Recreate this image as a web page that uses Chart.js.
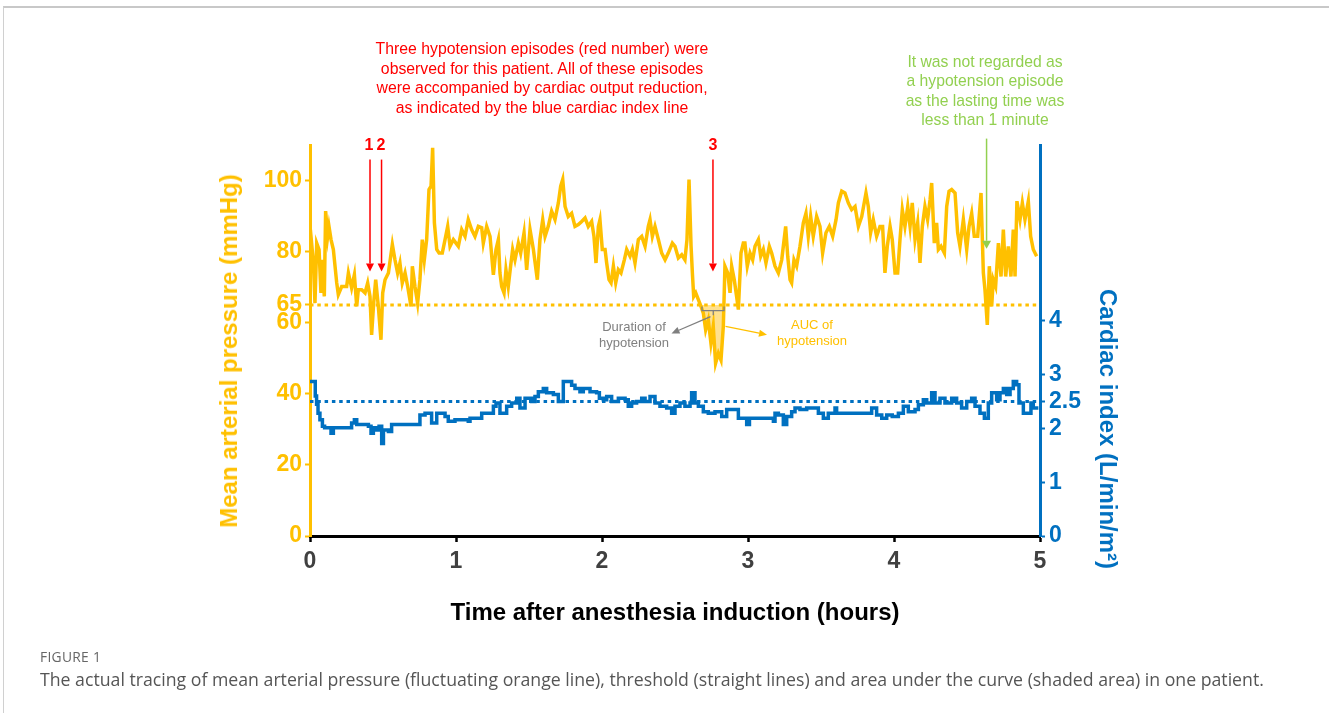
<!DOCTYPE html>
<html>
<head>
<meta charset="utf-8">
<title>MAP and cardiac index tracing</title>
<script src="https://cdn.jsdelivr.net/npm/chart.js"></script>
<style>
  body {
    margin: 0;
    background: #fff;
    font-family: Arial, "Liberation Sans", sans-serif;
  }
  #page {
    position: relative;
    width: 1329px;
    height: 713px;
    overflow: hidden;
  }
  #frame {
    position: absolute;
    left: 3px;
    top: 6px;
    right: -2px;
    bottom: -2px;
    border-top: 2px solid #c8c8c8;
    border-left: 1px solid #d0d0d0;
  }
  #mapChart {
    position: absolute;
    left: 0;
    top: 0;
  }
  .note {
    position: absolute;
    text-align: center;
    white-space: nowrap;
  }
  .red { color: #ff0000; font-size: 15.8px; line-height: 19.7px; }
  .green { color: #92d050; font-size: 15.7px; line-height: 19.4px; }
  .num { color: #ff0000; font-size: 16px; font-weight: bold; line-height: 18px; width: 20px; }
  .small { font-size: 13px; line-height: 16px; width: 120px; }
  .ytitle {
    position: absolute;
    white-space: nowrap;
    font-size: 24px;
    font-weight: bold;
  }
  .caption {
    position: absolute;
    left: 40px;
    font-family: "Open Sans", "Noto Sans", sans-serif;
    color: #555;
    white-space: nowrap;
  }
</style>
</head>
<body>
<div id="page">
  <div id="frame"></div>
  <canvas id="mapChart" width="1329" height="713"></canvas>

  <div class="note red" style="left:342px; top:39px; width:400px;">Three hypotension episodes (red number) were<br>observed for this patient. All of these episodes<br>were accompanied by cardiac output reduction,<br>as indicated by the blue cardiac index line</div>
  <div class="note green" style="left:865px; top:52px; width:240px;">It was not regarded as<br>a hypotension episode<br>as the lasting time was<br>less than 1 minute</div>

  <div class="note num" style="left:359px; top:136px;">1</div>
  <div class="note num" style="left:371px; top:136px;">2</div>
  <div class="note num" style="left:703px; top:136px;">3</div>

  <div class="note small" style="left:574px; top:319px; color:#808080;">Duration of<br>hypotension</div>
  <div class="note small" style="left:752px; top:317px; color:#ffc000;">AUC of<br>hypotension</div>

  <div class="ytitle" style="left:229px; top:351px; color:#ffc000; transform:translate(-50%,-50%) rotate(-90deg);">Mean arterial pressure (mmHg)</div>
  <div class="ytitle" style="left:1108px; top:429px; color:#0070c0; transform:translate(-50%,-50%) rotate(90deg);">Cardiac index (L/min/m²)</div>

  <div class="caption" style="top:647px; font-size:13.8px; letter-spacing:0.3px; color:#666;">FIGURE 1</div>
  <div class="caption" style="top:667px; font-size:17.7px;">The actual tracing of mean arterial pressure (fluctuating orange line), threshold (straight lines) and area under the curve (shaded area) in one patient.</div>
</div>

<script>
// time after induction (hours) and mean arterial pressure (mmHg)
const mapTime = [
  0, 0.011, 0.023, 0.034, 0.046, 0.062, 0.075, 0.084, 0.098, 0.107, 0.121, 0.130, 0.144, 0.160, 0.183, 0.194, 0.217, 0.251, 0.263, 0.285,
  0.304, 0.320, 0.331, 0.354, 0.377, 0.395, 0.411, 0.422, 0.436, 0.450, 0.468, 0.486, 0.498, 0.514, 0.537, 0.564, 0.582, 0.600, 0.616, 0.632,
  0.651, 0.669, 0.692, 0.701, 0.719, 0.737, 0.753, 0.769, 0.783, 0.799, 0.815, 0.829, 0.840, 0.852, 0.868, 0.884, 0.906, 0.925, 0.943, 0.959, 0.982,
  1.000, 1.016, 1.039, 1.062, 1.084, 1.107, 1.130, 1.153, 1.176, 1.187, 1.210, 1.233, 1.256, 1.274, 1.290, 1.301, 1.313, 1.329, 1.342, 1.358,
  1.374, 1.388, 1.404, 1.427, 1.443, 1.466, 1.484, 1.507, 1.530, 1.557, 1.575, 1.594, 1.610, 1.632, 1.655, 1.678, 1.701, 1.717, 1.731, 1.747,
  1.769, 1.792, 1.815, 1.838, 1.861, 1.884, 1.906, 1.929, 1.945, 1.959, 1.975,
  1.986, 2.002, 2.021, 2.032, 2.048, 2.062, 2.078, 2.094, 2.112, 2.130, 2.153, 2.169, 2.192, 2.208, 2.226, 2.249, 2.272, 2.295, 2.317, 2.329,
  2.345, 2.363, 2.386, 2.409, 2.432, 2.454, 2.482, 2.500, 2.523, 2.546, 2.568, 2.582, 2.596, 2.610, 2.619, 2.628, 2.642, 2.660, 2.678, 2.694,
  2.710, 2.728, 2.746, 2.762, 2.778, 2.797, 2.815, 2.831, 2.842, 2.861, 2.877, 2.888, 2.906, 2.922, 2.934, 2.952, 2.968,
  2.979, 2.995, 3.014, 3.032, 3.048, 3.071, 3.087, 3.105, 3.123, 3.146, 3.162, 3.185, 3.208, 3.231, 3.258, 3.272, 3.288, 3.299, 3.315, 3.333,
  3.356, 3.379, 3.397, 3.413, 3.429, 3.447, 3.470, 3.493, 3.511, 3.534, 3.557, 3.580, 3.603, 3.619, 3.642, 3.664, 3.687, 3.710, 3.733, 3.756,
  3.779, 3.808, 3.824, 3.840, 3.858, 3.881, 3.904, 3.922, 3.938, 3.954,
  3.973, 3.988, 4.007, 4.025, 4.041, 4.057, 4.075, 4.094, 4.110, 4.125, 4.144, 4.162, 4.178, 4.194, 4.212, 4.230, 4.247, 4.258, 4.276, 4.292,
  4.304, 4.322, 4.345, 4.361, 4.377, 4.395, 4.418, 4.436, 4.452, 4.475, 4.498, 4.514, 4.532, 4.550, 4.573, 4.596, 4.612, 4.623, 4.639, 4.653,
  4.669, 4.680, 4.696, 4.715, 4.733, 4.749, 4.765, 4.783, 4.801, 4.817, 4.829, 4.842, 4.863, 4.879, 4.897, 4.920, 4.936, 4.954, 4.977
];
const mapValue = [
  79.6, 82.4, 77.0, 65.5, 82.4, 80.6, 68.4, 77.7, 67.4, 91.4, 84.3, 87.1, 83.4, 80.6, 71.2, 67.9, 70.2, 70.2, 74.0, 69.8,
  73.5, 64.6, 69.3, 69.3, 68.4, 71.2, 67.4, 56.6, 65.5, 72.1, 64.6, 55.2, 68.4, 72.1, 74.0, 82.0, 77.7, 74.0, 76.8, 71.2,
  74.0, 70.2, 64.6, 75.9, 70.2, 65.5, 72.1, 83.4, 77.7, 83.4, 97.5, 98.4, 109.2, 88.1, 80.6, 79.6, 79.6, 83.4, 87.1, 81.5, 83.4,
  82.4, 81.5, 86.2, 84.3, 89.0, 86.2, 84.3, 87.1, 86.7, 82.4, 87.1, 84.3, 73.5, 80.6, 83.4, 74.0, 70.2, 68.4, 74.9, 70.2,
  75.9, 80.6, 77.7, 82.4, 79.6, 85.3, 74.9, 86.2, 80.6, 72.1, 83.4, 89.0, 84.3, 87.1, 91.4, 89.0, 93.7, 98.4, 100.3, 92.7,
  89.9, 90.8, 87.1, 87.6, 88.5, 89.5, 87.1, 88.5, 84.3, 76.8, 87.1,
  89.0, 80.6, 80.6, 76.8, 72.1, 71.2, 75.9, 71.2, 74.9, 74.0, 77.7, 80.6, 78.7, 80.6, 76.8, 83.4, 84.3, 81.5, 87.1, 89.0,
  84.3, 87.1, 83.4, 79.6, 77.7, 79.6, 82.4, 81.5, 78.2, 79.1, 77.7, 83.4, 100.3, 81.5, 74.0, 67.4, 68.4, 66.5, 64.6, 62.7,
  58.0, 60.8, 54.3, 59.0, 48.6, 51.4, 49.5, 59.0, 75.9, 74.0, 68.4, 75.9, 72.1, 67.4, 63.7, 79.6, 82.4,
  82.4, 75.9, 79.6, 77.7, 81.5, 83.4, 78.7, 80.6, 76.8, 81.5, 79.6, 75.9, 74.0, 77.7, 87.1, 78.7, 72.1, 71.2, 77.7, 75.9,
  81.5, 88.1, 90.8, 84.3, 89.9, 84.3, 89.9, 87.1, 79.6, 85.3, 87.1, 84.3, 89.0, 93.7, 97.0, 96.5, 93.7, 91.8, 92.7, 87.1,
  89.9, 96.5, 92.7, 85.3, 89.0, 84.3, 87.1, 87.1, 74.0, 81.5,
  87.1, 83.4, 74.0, 74.0, 83.4, 91.8, 87.1, 92.7, 87.1, 93.7, 83.4, 88.1, 76.8, 87.1, 92.7, 89.0, 94.6, 99.3, 82.4, 88.1,
  80.6, 81.5, 79.6, 92.7, 97.0, 97.5, 96.5, 85.3, 81.5, 89.0, 80.6, 87.1, 90.8, 84.3, 84.3, 96.5, 74.0, 69.3, 59.4, 75.9,
  64.6, 72.1, 70.2, 82.4, 73.0, 86.2, 73.0, 81.5, 73.0, 86.2, 73.0, 94.2, 89.0, 93.7, 89.0, 94.2, 84.3, 80.6, 78.7
];

// cardiac index (L/min/m2), value holds from each time until the next one
const ciTime = [
  0, 0.036, 0.045, 0.055, 0.068, 0.085, 0.100, 0.144, 0.160, 0.285, 0.304, 0.320, 0.400, 0.418, 0.434, 0.450, 0.473, 0.491, 0.503, 0.537,
  0.559, 0.753, 0.788, 0.833, 0.868, 0.925, 0.947, 0.993,
  1.084, 1.096, 1.176, 1.256, 1.274, 1.301, 1.347, 1.381, 1.416, 1.438, 1.473, 1.518, 1.541, 1.564, 1.598, 1.621, 1.667, 1.701, 1.735, 1.792,
  1.815, 1.849, 1.872, 1.918, 1.963, 1.982,
  2.009, 2.032, 2.066, 2.112, 2.158, 2.180, 2.203, 2.237, 2.272, 2.295, 2.329, 2.363, 2.397, 2.443, 2.477, 2.500, 2.534, 2.568, 2.603, 2.614,
  2.637, 2.660, 2.694, 2.728, 2.774, 2.820, 2.854, 2.934, 2.991,
  3.010, 3.174, 3.185, 3.208, 3.242, 3.265, 3.299, 3.322, 3.356, 3.402, 3.482, 3.516, 3.550, 3.596, 3.607, 3.824, 3.847, 3.881, 3.916, 3.950,
  3.988, 4.030, 4.064, 4.098, 4.144, 4.167, 4.201, 4.224, 4.258, 4.281, 4.315, 4.349, 4.395, 4.429, 4.463, 4.498, 4.532, 4.555, 4.589, 4.619,
  4.646, 4.669, 4.703, 4.726, 4.749, 4.772, 4.795, 4.817, 4.840, 4.856, 4.886, 4.938, 4.954, 4.977
];
const ciValue = [
  2.87, 2.60, 2.45, 2.28, 2.16, 2.04, 2.01, 1.91, 2.01, 2.10, 2.16, 2.07, 2.04, 1.91, 2.01, 1.97, 2.04, 1.72, 1.97, 1.94,
  2.07, 2.25, 2.28, 2.10, 2.28, 2.22, 2.13, 2.16,
  2.13, 2.19, 2.28, 2.41, 2.47, 2.28, 2.41, 2.47, 2.56, 2.38, 2.56, 2.50, 2.59, 2.68, 2.74, 2.66, 2.63, 2.50, 2.87, 2.80,
  2.74, 2.68, 2.74, 2.68, 2.66, 2.56,
  2.53, 2.59, 2.50, 2.56, 2.53, 2.41, 2.47, 2.50, 2.56, 2.50, 2.59, 2.47, 2.41, 2.38, 2.28, 2.41, 2.47, 2.41, 2.47, 2.66,
  2.47, 2.41, 2.31, 2.28, 2.31, 2.22, 2.35, 2.19, 2.07,
  2.19, 2.13, 2.28, 2.25, 2.07, 2.22, 2.31, 2.38, 2.35, 2.38, 2.28, 2.19, 2.28, 2.38, 2.28, 2.28, 2.38, 2.25, 2.19, 2.25,
  2.22, 2.28, 2.41, 2.31, 2.35, 2.44, 2.53, 2.47, 2.66, 2.47, 2.56, 2.47, 2.56, 2.47, 2.38, 2.50, 2.56, 2.41, 2.28, 2.19,
  2.47, 2.66, 2.53, 2.66, 2.74, 2.63, 2.74, 2.87, 2.81, 2.47, 2.28, 2.47, 2.38, 2.41
];

const mapTicks = [0, 20, 40, 60, 65, 80, 100];
const ciTicks = [0, 1, 2, 2.5, 3, 4];
const mapThreshold = 65;
const ciThreshold = 2.5;
// third episode, the one that gets the shaded AUC
const aucStart = 2.66;
const aucEnd = 2.842;
// annotation arrows (hours)
const episodeMarks = [0.411, 0.490, 2.760];
const shortDipMark = 4.634;

const ORANGE = '#FFC000';
const BLUE = '#0070C0';
const FONT = "Arial, 'Liberation Sans', sans-serif";

const mapPoints = mapTime.map((t, i) => ({ x: t, y: mapValue[i] }));
const ciPoints = ciTime.map((t, i) => ({ x: t, y: ciValue[i] }));
const aucPoints = mapPoints.filter(p => p.x >= aucStart && p.x <= aucEnd);

function drawArrow(ctx, x1, y1, x2, y2, color, lw, headLen, headHalf) {
    const ang = Math.atan2(y2 - y1, x2 - x1);
    const bx = x2 - headLen * Math.cos(ang);
    const by = y2 - headLen * Math.sin(ang);
    ctx.strokeStyle = color;
    ctx.lineWidth = lw;
    ctx.beginPath();
    ctx.moveTo(x1, y1);
    ctx.lineTo(bx, by);
    ctx.stroke();
    ctx.fillStyle = color;
    ctx.beginPath();
    ctx.moveTo(x2, y2);
    ctx.lineTo(bx + headHalf * Math.sin(ang), by - headHalf * Math.cos(ang));
    ctx.lineTo(bx - headHalf * Math.sin(ang), by + headHalf * Math.cos(ang));
    ctx.closePath();
    ctx.fill();
}

// arrows and the duration bracket, placed with the chart's own scales
const notesPlugin = {
    id: 'notes',
    afterDatasetsDraw(chart) {
        const { ctx } = chart;
        const x = chart.scales.x;
        const y = chart.scales.y;
        ctx.save();
        episodeMarks.forEach(t => {
            drawArrow(ctx, x.getPixelForValue(t), y.getPixelForValue(105.9),
                x.getPixelForValue(t), y.getPixelForValue(74.4), '#FF0000', 1.5, 8, 4);
        });
        drawArrow(ctx, x.getPixelForValue(shortDipMark), y.getPixelForValue(111.8),
            x.getPixelForValue(shortDipMark), y.getPixelForValue(80.8), '#92D050', 1.5, 8, 4.5);

        // bracket over the hypotension duration
        const bl = x.getPixelForValue(2.685), br = x.getPixelForValue(2.836), bm = x.getPixelForValue(2.762);
        const by = y.getPixelForValue(63.4);
        ctx.strokeStyle = '#7F7F7F';
        ctx.lineWidth = 1.3;
        ctx.beginPath();
        ctx.moveTo(bl, y.getPixelForValue(64.6));
        ctx.lineTo(bl, by);
        ctx.lineTo(br, by);
        ctx.lineTo(br, y.getPixelForValue(64.6));
        ctx.moveTo(bm, by);
        ctx.lineTo(bm, y.getPixelForValue(62.1));
        ctx.stroke();
        drawArrow(ctx, x.getPixelForValue(2.743), y.getPixelForValue(61.7),
            x.getPixelForValue(2.476), y.getPixelForValue(57.0), '#7F7F7F', 1.3, 8, 3.5);
        drawArrow(ctx, x.getPixelForValue(2.846), y.getPixelForValue(59.0),
            x.getPixelForValue(3.130), y.getPixelForValue(56.6), ORANGE, 1.3, 8, 3.5);
        ctx.restore();
    }
};

new Chart(document.getElementById('mapChart'), {
    type: 'line',
    data: {
        datasets: [
            {
                label: 'Mean arterial pressure',
                data: mapPoints,
                yAxisID: 'y',
                borderColor: ORANGE,
                borderWidth: 3.5,
                pointRadius: 0,
                tension: 0,
                order: 1
            },
            {
                label: 'AUC of hypotension',
                data: aucPoints,
                yAxisID: 'y',
                borderWidth: 0,
                pointRadius: 0,
                fill: { target: { value: mapThreshold }, above: 'rgba(0,0,0,0)', below: 'rgba(255,200,50,0.55)' },
                order: 4
            },
            {
                label: 'MAP threshold',
                data: [{ x: 0, y: mapThreshold }, { x: 5, y: mapThreshold }],
                yAxisID: 'y',
                borderColor: ORANGE,
                borderWidth: 3,
                borderDash: [3.5, 3.8],
                pointRadius: 0,
                order: 3
            },
            {
                label: 'Cardiac index',
                data: ciPoints,
                yAxisID: 'y1',
                borderColor: BLUE,
                borderWidth: 3.5,
                pointRadius: 0,
                stepped: true,
                order: 0
            },
            {
                label: 'CI threshold',
                data: [{ x: 0, y: ciThreshold }, { x: 5, y: ciThreshold }],
                yAxisID: 'y1',
                borderColor: BLUE,
                borderWidth: 3,
                borderDash: [3.5, 3.8],
                pointRadius: 0,
                order: 2
            }
        ]
    },
    options: {
        responsive: false,
        animation: false,
        layout: { padding: { left: 200, right: 207, top: 145, bottom: 77 } },
        plugins: {
            legend: { display: false },
            tooltip: { enabled: false }
        },
        scales: {
            x: {
                type: 'linear',
                min: 0,
                max: 5,
                border: { color: '#000', width: 3 },
                grid: { drawOnChartArea: false, color: '#000', tickLength: 6, tickWidth: 2.5 },
                ticks: { stepSize: 1, padding: 6, color: '#404040', font: { family: FONT, size: 23, weight: 'bold' } },
                title: {
                    display: true,
                    text: 'Time after anesthesia induction (hours)',
                    color: '#000',
                    font: { family: FONT, size: 24, weight: 'bold' },
                    padding: { top: 0, bottom: 8 }
                },
                afterFit: s => { s.height = 100; }
            },
            y: {
                position: 'left',
                min: 0,
                max: 110,
                border: { color: ORANGE, width: 3 },
                grid: { drawOnChartArea: false, color: ORANGE, tickLength: 5, tickWidth: 2 },
                ticks: { autoSkip: false, padding: 3, color: ORANGE, font: { family: FONT, size: 23, weight: 'bold' } },
                afterBuildTicks: s => { s.ticks = mapTicks.map(v => ({ value: v })); },
                afterFit: s => { s.width = 110; }
            },
            y1: {
                position: 'right',
                min: 0,
                max: 7.265,
                border: { color: BLUE, width: 3 },
                grid: { drawOnChartArea: false, color: BLUE, tickLength: 5, tickWidth: 2 },
                ticks: { autoSkip: false, padding: 4, color: BLUE, font: { family: FONT, size: 23, weight: 'bold' } },
                afterBuildTicks: s => { s.ticks = ciTicks.map(v => ({ value: v })); },
                afterFit: s => { s.width = 82; }
            }
        }
    },
    plugins: [notesPlugin]
});
</script>
</body>
</html>
